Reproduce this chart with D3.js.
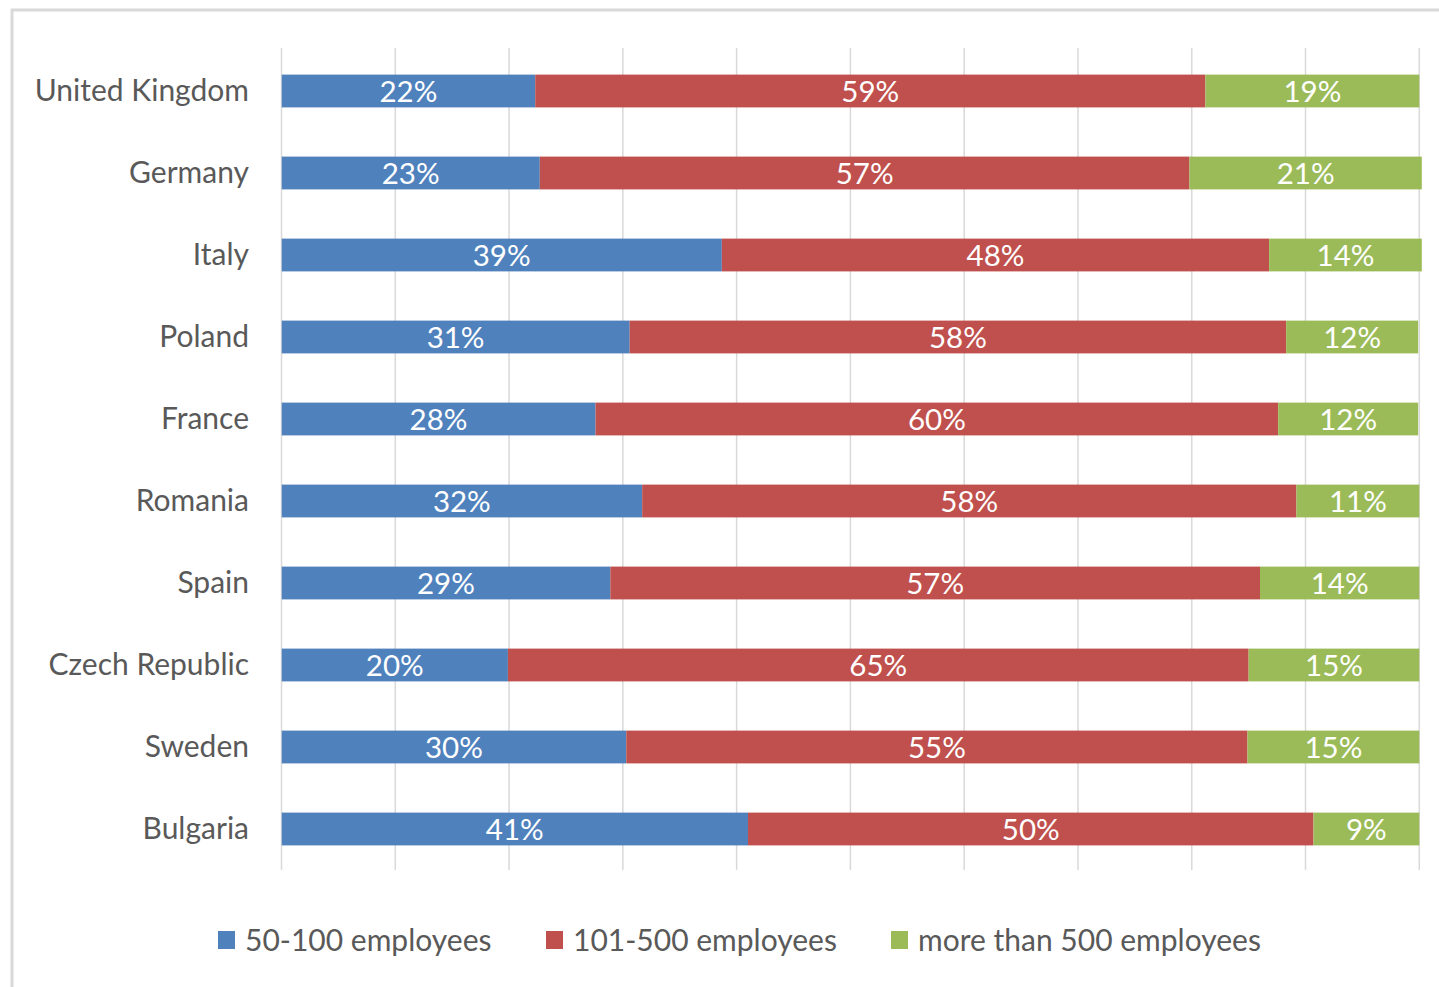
<!DOCTYPE html>
<html lang="en">
<head>
  <meta charset="UTF-8" />
  <title>Company size by country</title>
  <style>
    body { margin: 0; background: #fff; font-family: Lato, "Open Sans", sans-serif; }
    svg { display: block; }
  </style>
</head>
<body>
  <svg id="chart"></svg>

  <script src="https://d3js.org/d3.v7.min.js"></script>
  <script>
    // data (percent of companies)
    const countries = ["United Kingdom", "Germany", "Italy", "Poland", "France",
                       "Romania", "Spain", "Czech Republic", "Sweden", "Bulgaria"];
    const seriesNames = ["50-100 employees", "101-500 employees", "more than 500 employees"];
    const small  = [22.3, 22.7, 38.7, 30.6, 27.6, 31.7, 28.9, 19.9, 30.3, 41.0];
    const medium = [58.9, 57.1, 48.1, 57.7, 60.0, 57.5, 57.1, 65.1, 54.6, 49.7];
    const large  = [18.8, 20.6, 14.0, 11.6, 12.3, 10.8, 14.0, 15.0, 15.1,  9.3];
    const xTicks = [0, 10, 20, 30, 40, 50, 60, 70, 80, 90, 100];

    const colors = ["#4F81BD", "#C0504D", "#9BBB59"];

    const W = 1439, H = 987;
    const svg = d3.select("#chart").attr("width", W).attr("height", H);

    // outer chart frame
    svg.append("rect")
      .attr("x", 12).attr("y", 10)
      .attr("width", W).attr("height", H)
      .attr("fill", "none")
      .attr("stroke", "#d9d9d9")
      .attr("stroke-width", 3);

    const x = d3.scaleLinear().domain([0, 100]).range([281.5, 1419.3]);
    const y = d3.scaleBand().domain(countries).range([50, 870]).paddingInner(0.6).paddingOuter(0.3);

    const rows = countries.map((c, i) => ({
      country: c,
      [seriesNames[0]]: small[i],
      [seriesNames[1]]: medium[i],
      [seriesNames[2]]: large[i]
    }));
    const stacked = d3.stack().keys(seriesNames)(rows);

    // gridlines
    svg.append("g")
      .selectAll("line")
      .data(xTicks)
      .join("line")
      .attr("x1", d => x(d)).attr("x2", d => x(d))
      .attr("y1", 48).attr("y2", 870)
      .attr("stroke", "#d9d9d9")
      .attr("stroke-width", 1.5);

    // bars are clipped at the plot edge like the spreadsheet does
    svg.append("clipPath").attr("id", "plotClip")
      .append("rect")
      .attr("x", x(0)).attr("y", 0)
      .attr("width", x(100) - x(0) + 2.5).attr("height", H);

    const layers = svg.append("g")
      .attr("clip-path", "url(#plotClip)")
      .selectAll("g")
      .data(stacked)
      .join("g")
      .attr("fill", (d, i) => colors[i]);

    layers.selectAll("rect")
      .data(d => d)
      .join("rect")
      .attr("x", d => x(d[0]))
      .attr("y", d => y(d.data.country))
      .attr("width", d => x(d[1]) - x(d[0]))
      .attr("height", y.bandwidth());

    // value labels
    const labelG = svg.append("g")
      .attr("font-size", 29.5)
      .attr("fill", "#ffffff")
      .attr("text-anchor", "middle");

    stacked.forEach(layer => {
      labelG.selectAll(null)
        .data(layer)
        .join("text")
        .attr("x", d => (x(d[0]) + Math.min(x(d[1]), x(100) + 2.5)) / 2)
        .attr("y", d => y(d.data.country) + y.bandwidth() / 2)
        .attr("dy", "0.36em")
        .text(d => Math.round(d[1] - d[0]) + "%");
    });

    // category axis labels
    svg.append("g")
      .selectAll("text")
      .data(countries)
      .join("text")
      .attr("x", 249)
      .attr("y", d => y(d) + y.bandwidth() / 2)
      .attr("dy", "0.33em")
      .attr("text-anchor", "end")
      .attr("font-size", 30)
      .attr("fill", "#595959")
      .text(d => d);

    // legend
    const legendX = [218, 546, 891];
    const legend = svg.append("g")
      .selectAll("g")
      .data(seriesNames)
      .join("g")
      .attr("transform", (d, i) => `translate(${legendX[i]}, 940)`);

    legend.append("rect")
      .attr("x", 0).attr("y", -9)
      .attr("width", 17).attr("height", 18)
      .attr("fill", (d, i) => colors[i]);

    legend.append("text")
      .attr("x", 27)
      .attr("dy", "0.35em")
      .attr("font-size", 30)
      .attr("fill", "#595959")
      .text(d => d);
  </script>
</body>
</html>
